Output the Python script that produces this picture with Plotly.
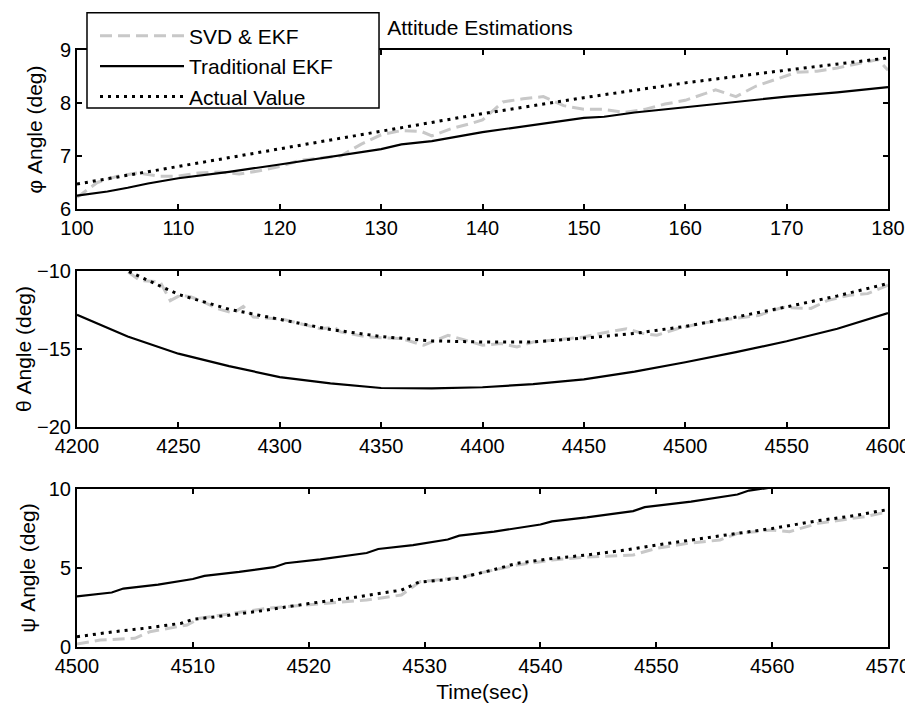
import plotly.graph_objects as go

# ---------------- data ----------------
# phi (top)
phi_t_act = [100, 110, 120, 130, 140, 150, 160, 170, 180]
phi_act = [6.47, 6.80, 7.13, 7.47, 7.80, 8.10, 8.38, 8.62, 8.85]

phi_t_trad = [100, 103, 105, 107, 110, 113, 115, 120, 125, 130, 132, 135, 140, 145, 150, 152, 155, 160, 162, 165, 170, 175, 180]
phi_trad = [6.25, 6.33, 6.40, 6.48, 6.58, 6.65, 6.70, 6.84, 6.98, 7.13, 7.22, 7.28, 7.45, 7.58, 7.72, 7.74, 7.82, 7.92, 7.96, 8.02, 8.12, 8.20, 8.30]

phi_t_svd = [100, 102, 104, 106, 108, 110, 112, 114, 116, 118, 120, 122, 124, 126, 128, 130, 132, 134, 135, 137, 139, 140, 142, 144, 146, 148, 150, 152, 154, 156, 158, 160, 162, 163, 165, 167, 169, 171, 173, 175, 177, 179, 180]
phi_svd = [6.22, 6.50, 6.62, 6.68, 6.62, 6.62, 6.68, 6.70, 6.66, 6.72, 6.80, 6.92, 6.96, 7.00, 7.22, 7.40, 7.48, 7.46, 7.38, 7.52, 7.62, 7.68, 8.02, 8.08, 8.12, 7.95, 7.88, 7.88, 7.82, 7.88, 7.98, 8.05, 8.18, 8.25, 8.12, 8.32, 8.45, 8.58, 8.60, 8.66, 8.74, 8.82, 8.62]

# theta (middle)
th_t_trad = [4200, 4225, 4250, 4275, 4300, 4325, 4350, 4375, 4400, 4425, 4450, 4475, 4500, 4525, 4550, 4575, 4600]
th_trad = [-12.8, -14.2, -15.3, -16.1, -16.8, -17.2, -17.5, -17.52, -17.45, -17.25, -16.95, -16.45, -15.85, -15.2, -14.5, -13.7, -12.7]

th_t_act = [4200, 4225, 4250, 4275, 4300, 4325, 4350, 4375, 4400, 4425, 4450, 4475, 4500, 4525, 4550, 4575, 4600]
th_act = [-8.7, -10.0, -11.5, -12.45, -13.1, -13.75, -14.2, -14.48, -14.55, -14.55, -14.3, -14.0, -13.55, -12.95, -12.3, -11.6, -10.8]

th_t_svd = [4200, 4215, 4224.6, 4231, 4241, 4246, 4251, 4256, 4261, 4269, 4277, 4282, 4287, 4302, 4310, 4320, 4327, 4330, 4343, 4360, 4371, 4383, 4392, 4400, 4409, 4417, 4425, 4433, 4441, 4450, 4458, 4471, 4479, 4486, 4496, 4507, 4524, 4536, 4548, 4562, 4570, 4581, 4590, 4600]
th_svd = [-9.0, -9.5, -10.0, -10.6, -10.7, -11.9, -11.55, -11.65, -11.9, -12.4, -12.7, -12.27, -12.95, -13.1, -13.37, -13.7, -13.6, -13.9, -14.23, -14.33, -14.76, -14.12, -14.45, -14.76, -14.65, -14.87, -14.55, -14.45, -14.34, -14.23, -14.0, -13.7, -14.0, -14.12, -13.7, -13.37, -13.05, -12.85, -12.33, -12.4, -11.9, -11.55, -11.45, -10.9]

# psi (bottom)
psi_t_trad = [4500, 4503, 4504, 4507, 4510, 4511, 4514, 4517, 4518, 4521, 4525, 4526, 4529, 4532, 4533, 4536, 4540, 4541, 4544, 4548, 4549, 4553, 4557, 4558, 4560]
psi_trad = [3.2, 3.45, 3.7, 3.95, 4.3, 4.5, 4.75, 5.05, 5.3, 5.55, 5.95, 6.2, 6.45, 6.8, 7.05, 7.3, 7.75, 7.95, 8.2, 8.6, 8.85, 9.2, 9.65, 9.9, 10.1]

psi_t_act = [4500, 4503, 4506, 4509, 4510, 4513, 4516, 4520, 4524, 4528, 4529.5, 4533, 4536, 4538, 4541, 4544, 4547, 4550, 4555, 4560, 4564, 4567, 4570]
psi_act = [0.65, 0.95, 1.2, 1.5, 1.75, 2.0, 2.3, 2.75, 3.15, 3.6, 4.1, 4.35, 4.9, 5.3, 5.6, 5.82, 6.1, 6.45, 6.98, 7.5, 8.0, 8.3, 8.7]

psi_t_svd = [4500, 4502, 4505, 4506.3, 4509.5, 4510.6, 4516.4, 4522, 4525, 4528, 4529.6, 4533, 4538, 4541, 4544, 4548, 4550, 4552.6, 4555.5, 4557, 4560, 4561.5, 4564, 4566, 4568, 4570]
psi_svd = [0.19, 0.44, 0.55, 0.97, 1.39, 1.82, 2.45, 2.76, 2.97, 3.29, 4.13, 4.4, 5.19, 5.5, 5.7, 5.82, 6.24, 6.55, 6.77, 7.19, 7.4, 7.3, 7.83, 8.04, 8.25, 8.56]

names = ["SVD & EKF", "Traditional EKF", "Actual Value"]
y_titles = ["\u03c6 Angle (deg)", "\u03b8 Angle (deg)", "\u03c8 Angle (deg)"]
x_title = "Time(sec)"
chart_title = "Attitude Estimations"

# ---------------- styles ----------------
FONT = "Arial, Liberation Sans, sans-serif"
TXT = 21
TICK = 20
svd_line = dict(color="#c8c8c8", width=3, dash="12px,6px")
trad_line = dict(color="black", width=2.2)
act_line = dict(color="black", width=3, dash="3px,5px")

fig = go.Figure()
panels = [
    (phi_t_svd, phi_svd, phi_t_trad, phi_trad, phi_t_act, phi_act),
    (th_t_svd, th_svd, th_t_trad, th_trad, th_t_act, th_act),
    (psi_t_svd, psi_svd, psi_t_trad, psi_trad, psi_t_act, psi_act),
]
for i, (ts, s, tt, tr, ta, a) in enumerate(panels):
    xa = "x" if i == 0 else f"x{i+1}"
    ya = "y" if i == 0 else f"y{i+1}"
    show = i == 0
    fig.add_trace(go.Scatter(x=ts, y=s, mode="lines", line=svd_line, name=names[0],
                             legendgroup="a", showlegend=show, xaxis=xa, yaxis=ya))
    fig.add_trace(go.Scatter(x=tt, y=tr, mode="lines", line=trad_line, name=names[1],
                             legendgroup="b", showlegend=show, xaxis=xa, yaxis=ya))
    fig.add_trace(go.Scatter(x=ta, y=a, mode="lines", line=act_line, name=names[2],
                             legendgroup="c", showlegend=show, xaxis=xa, yaxis=ya))

axis_common = dict(showline=True, linecolor="black", linewidth=2, mirror="ticks",
                   ticks="inside", ticklen=5, tickwidth=1.5, tickcolor="black",
                   showgrid=False, zeroline=False,
                   tickfont=dict(family=FONT, size=TICK, color="black"))

ydomains = [[0.7337, 1.0], [0.3685, 0.6298], [0.0, 0.2647]]
xranges = [[100, 180], [4200, 4600], [4500, 4570]]
xticks = [list(range(100, 181, 10)), list(range(4200, 4601, 50)), list(range(4500, 4571, 10))]
yranges = [[6, 9], [-20, -10], [0, 10]]
yticks = [[6, 7, 8, 9], [-20, -15, -10], [0, 5, 10]]
ystand = [12, 0, 7]

layout_axes = {}
for i in range(3):
    xk = "xaxis" if i == 0 else f"xaxis{i+1}"
    yk = "yaxis" if i == 0 else f"yaxis{i+1}"
    ya = "y" if i == 0 else f"y{i+1}"
    xa = "x" if i == 0 else f"x{i+1}"
    layout_axes[xk] = dict(axis_common, domain=[0, 1], anchor=ya, range=xranges[i],
                           tickvals=xticks[i])
    layout_axes[yk] = dict(axis_common, domain=ydomains[i], anchor=xa, range=yranges[i],
                           tickvals=yticks[i],
                           title=dict(text=y_titles[i], standoff=ystand[i],
                                      font=dict(family=FONT, size=TXT, color="black")))
layout_axes["xaxis3"]["title"] = dict(text=x_title, standoff=8,
                                      font=dict(family=FONT, size=TXT, color="black"))

# page body has an 8px margin: figure is sized/offset so plot area lands at 77..888 x 50..647
fig.update_layout(
    width=905, height=696,
    margin=dict(l=69, r=25, t=42, b=57, autoexpand=False),
    paper_bgcolor="white", plot_bgcolor="white",
    font=dict(family=FONT, size=TXT, color="black"),
    title=dict(text=chart_title, x=0.497, xref="paper", xanchor="center",
               y=1 - 20 / 696, yref="container", yanchor="middle",
               font=dict(family=FONT, size=TXT, color="black")),
    legend=dict(x=0.0222, y=1.0575, xanchor="left", yanchor="top",
                bgcolor="rgba(0,0,0,0)", borderwidth=0,
                font=dict(family=FONT, size=TXT, color="black"),
                itemwidth=84, tracegroupgap=3, traceorder="normal"),
    showlegend=True,
    shapes=[dict(type="rect", xref="paper", yref="paper",
                 x0=0.01233, x1=0.3724, y0=0.9028, y1=1.0625,
                 fillcolor="white", line=dict(color="black", width=1.5), layer="above")],
    **layout_axes,
)

fig.write_html("out.html")
